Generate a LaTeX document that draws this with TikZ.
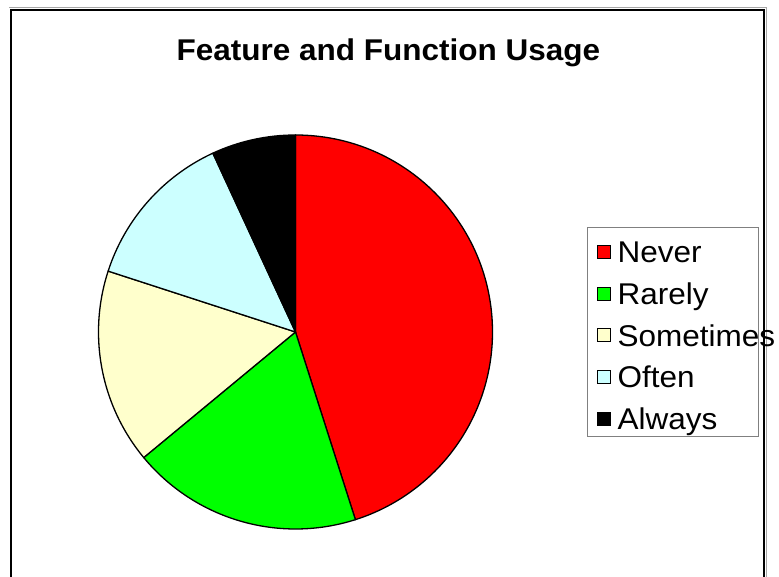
\documentclass[tikz,border=0pt]{standalone}
\usepackage{fontspec}
\setmainfont[FakeStretch=1.05]{Liberation Sans}
\begin{document}
\begin{tikzpicture}[x=1pt,y=1pt,
  slice/.style={draw=black,line width=1.3pt,line join=round},
  swatch/.style={draw=black,line width=1pt,minimum size=13pt,inner sep=0pt},
  entry/.style={anchor=base west,inner sep=0pt,font=\fontsize{30}{36}\selectfont},
  titletext/.style={anchor=base,inner sep=0pt,font=\bfseries\fontsize{30}{36}\selectfont}]
\definecolor{neverc}{RGB}{255,0,0}
\definecolor{rarelyc}{RGB}{0,255,0}
\definecolor{sometimesc}{RGB}{255,255,204}
\definecolor{oftenc}{RGB}{204,255,255}
\definecolor{alwaysc}{RGB}{0,0,0}
\useasboundingbox (0,0) rectangle (779,577);
\fill[white] (0,0) rectangle (779,577);

% chart frame (open at the bottom edge)
\draw[gray!70,line width=1pt] (9,569.5) -- (766,569.5) -- (766,0);
\draw[black,line width=2pt] (10.5,0) -- (10.5,567) -- (763.7,567) -- (763.7,0);

% title
\node[titletext] (title) at (388.4,516) {Feature and Function Usage};

% pie
\coordinate (c) at (295.5,245);
\def\R{197}
\filldraw[slice,fill=neverc]     (c) -- ++(90:\R)     arc[start angle=90,     end angle=-72.3,  radius=\R] -- cycle;
\filldraw[slice,fill=rarelyc]    (c) -- ++(-72.3:\R)  arc[start angle=-72.3,  end angle=-140.4, radius=\R] -- cycle;
\filldraw[slice,fill=sometimesc] (c) -- ++(-140.4:\R) arc[start angle=-140.4, end angle=-198,   radius=\R] -- cycle;
\filldraw[slice,fill=oftenc]     (c) -- ++(-198:\R)   arc[start angle=-198,   end angle=-245.2, radius=\R] -- cycle;
\filldraw[slice,fill=alwaysc]    (c) -- ++(-245.2:\R) arc[start angle=-245.2, end angle=-270,   radius=\R] -- cycle;

% legend
\draw[gray,line width=1pt] (587,349) rectangle (758,140);
\foreach \name/\col/\lab [count=\i from 0] in {never/neverc/Never,rarely/rarelyc/Rarely,sometimes/sometimesc/Sometimes,often/oftenc/Often,always/alwaysc/Always}{
  \pgfmathsetmacro{\yy}{325-41.75*\i}
  \node[swatch,fill=\col] (sw-\name) at (603.5,\yy) {};
  \node[entry] (lab-\name) at (617.5,\yy-10.7) {\lab};
}
\end{tikzpicture}
\end{document}
